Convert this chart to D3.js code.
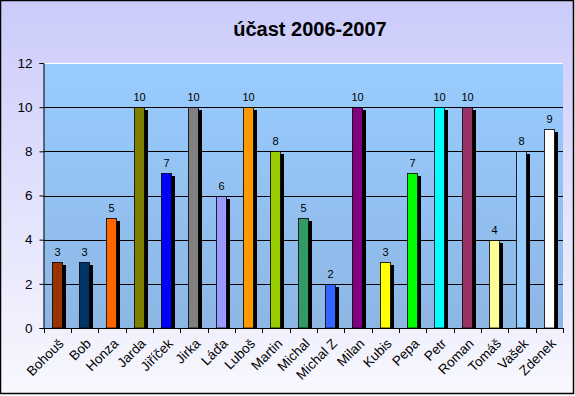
<!DOCTYPE html>
<html>
<head>
<meta charset="utf-8">
<script src="https://cdn.jsdelivr.net/npm/d3@7"></script>
<style>
  html, body { margin: 0; padding: 0; background: #fff; }
  svg { display: block; font-family: Arial, "Liberation Sans", sans-serif; }
</style>
</head>
<body>
<div id="chart"></div>
<script>
const names = ['Bohouš', 'Bob', 'Honza', 'Jarda', 'Jiříček', 'Jirka', 'Láďa', 'Luboš', 'Martin', 'Michal',
  'Michal Z', 'Milan', 'Kubis', 'Pepa', 'Petr', 'Roman', 'Tomáš', 'Vašek', 'Zdenek'];
const counts = [3, 3, 5, 10, 7, 10, 6, 10, 8, 5, 2, 10, 3, 7, 10, 10, 4, 8, 9];
const barColors = ['#993300', '#003366', '#FF6600', '#808000', '#0000FF', '#808080', '#9999FF', '#FF9900',
  '#99CC00', '#339966', '#3366FF', '#800080', '#FFFF00', '#00FF00', '#00FFFF', '#993366', '#FFFF99',
  '#99CCFF', '#FFFFFF'];
const yTicks = [0, 2, 4, 6, 8, 10, 12];
const title = 'účast 2006-2007';

const data = names.map((n, i) => ({ name: n, val: counts[i], color: barColors[i] }));

const W = 575, H = 396;
const m = { t: 63, r: 12, b: 68, l: 43.5 };

const svg = d3.select('#chart').append('svg').attr('width', W).attr('height', H);
const defs = svg.append('defs');

const bg = defs.append('linearGradient').attr('id', 'bg').attr('x1', 0).attr('y1', 0).attr('x2', 0).attr('y2', 1);
bg.append('stop').attr('offset', '0%').attr('stop-color', '#CBCBFB');
bg.append('stop').attr('offset', '100%').attr('stop-color', '#F8F8FE');

const pg = defs.append('linearGradient').attr('id', 'pg').attr('x1', 0).attr('y1', 0).attr('x2', 0).attr('y2', 1);
pg.append('stop').attr('offset', '0%').attr('stop-color', '#99CCFF');
pg.append('stop').attr('offset', '100%').attr('stop-color', '#8DB6E4');

svg.append('rect').attr('x', 0.5).attr('y', 0.5).attr('width', W - 2).attr('height', H - 3)
  .attr('fill', 'url(#bg)').attr('stroke', '#000').attr('stroke-width', 1.5);

const x = d3.scaleBand().domain(names).range([m.l, W - m.r]);
const y = d3.scaleLinear().domain([0, 12]).range([H - m.b, m.t]);

svg.append('rect')
  .attr('x', m.l).attr('y', m.t)
  .attr('width', W - m.r - m.l).attr('height', H - m.b - m.t)
  .attr('fill', 'url(#pg)');
svg.append('line')
  .attr('x1', m.l).attr('x2', W - m.r).attr('y1', m.t + 0.5).attr('y2', m.t + 0.5)
  .attr('stroke', '#fff').attr('stroke-width', 1);

// gridlines
svg.append('g').selectAll('line')
  .data(yTicks.filter(d => d > 0 && d < 12))
  .join('line')
  .attr('x1', m.l).attr('x2', W - m.r)
  .attr('y1', d => Math.round(y(d)) + 0.5).attr('y2', d => Math.round(y(d)) + 0.5)
  .attr('stroke', '#000').attr('stroke-width', 1);

const bw = 11;
const bars = svg.append('g').selectAll('g').data(data).join('g')
  .attr('transform', d => `translate(${Math.round(x(d.name) + x.bandwidth() / 2 - bw / 2)},0)`);

// shadows
bars.append('rect')
  .attr('x', 3).attr('y', d => Math.round(y(d.val)) + 3)
  .attr('width', bw).attr('height', d => y(0) - Math.round(y(d.val)) - 3)
  .attr('fill', '#000');

bars.append('rect')
  .attr('x', 0.5).attr('y', d => Math.round(y(d.val)) + 0.5)
  .attr('width', bw - 1).attr('height', d => y(0) - Math.round(y(d.val)) - 0.5)
  .attr('fill', d => d.color).attr('stroke', '#000').attr('stroke-width', 0.8);

bars.append('text')
  .attr('x', bw / 2).attr('y', d => y(d.val) - 6)
  .attr('text-anchor', 'middle')
  .style('font-size', '11px')
  .text(d => d.val);

// y axis
const ya = svg.append('g').attr('transform', `translate(${m.l},0)`)
  .call(d3.axisLeft(y).tickValues(yTicks).tickSize(4).tickPadding(7));
ya.select('.domain').attr('stroke', '#000');
ya.selectAll('text').style('font-size', '13.5px').attr('fill', '#000').style('font-family', 'Arial, sans-serif');

// x axis
const xa = svg.append('g').attr('transform', `translate(0,${y(0)})`);
xa.append('line').attr('x1', m.l).attr('x2', W - m.r).attr('y1', 0.5).attr('y2', 0.5).attr('stroke', '#000');
xa.selectAll('line.tk').data(d3.range(names.length + 1)).join('line').attr('class', 'tk')
  .attr('x1', i => Math.round(m.l + i * x.step()) + 0.5).attr('x2', i => Math.round(m.l + i * x.step()) + 0.5)
  .attr('y1', 0).attr('y2', 5).attr('stroke', '#000');
xa.selectAll('text').data(names).join('text')
  .attr('transform', d => `translate(${x(d) + x.bandwidth() / 2 + 4},${13}) rotate(-45)`)
  .attr('text-anchor', 'end')
  .attr('dy', '0.35em')
  .style('font-size', '13.5px')
  .text(d => d);

svg.append('text')
  .attr('x', 310).attr('y', 36)
  .attr('text-anchor', 'middle')
  .style('font-size', '20px').style('font-weight', 'bold')
  .text(title);
</script>
</body>
</html>
